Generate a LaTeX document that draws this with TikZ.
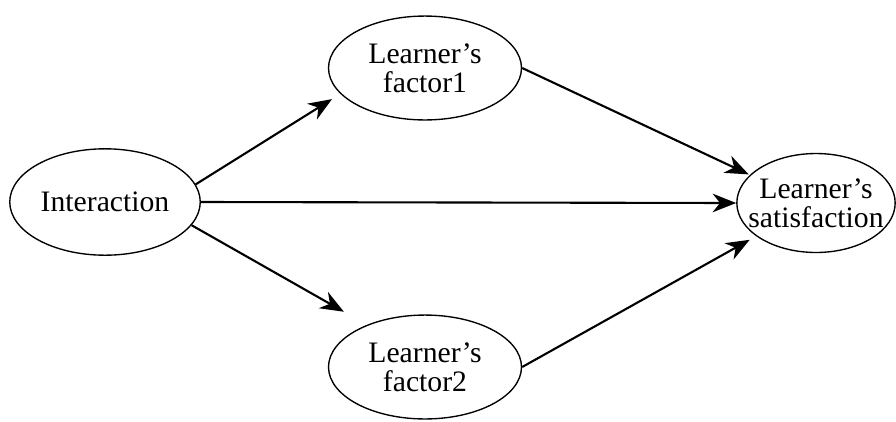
\documentclass[tikz,border=0pt]{standalone}
\usepackage{fontspec}
\setmainfont{Liberation Serif}
\usetikzlibrary{arrows.meta,shapes.geometric}

\begin{document}
\begin{tikzpicture}[x=0.0142cm, y=-0.0142cm,
		oval/.style={ellipse, draw, line width=0.55pt, inner sep=0pt, minimum width=78pt, minimum height=42pt},
		lbl/.style={font=\fontsize{12}{11.6}\selectfont, align=center},
		arr/.style={-{Stealth[length=9.5pt, width=7.5pt, inset=3pt]}, line width=0.85pt}]
		%%%%% START %%%%%
		
		\useasboundingbox (0, 0) rectangle (896, 421);
		
		\node[oval, minimum width=77pt, minimum height=43pt, label={[lbl]center:Interaction}] (inter) at (105, 202) {};
		\node[oval, label={[lbl]center:{Learner’s\\factor1}}] (fac1) at (425, 68) {};
		\node[oval, label={[lbl]center:{Learner’s\\factor2}}] (fac2) at (425, 367) {};
		\node[oval, minimum width=64pt, minimum height=40pt, label={[lbl]center:{Learner’s\\satisfaction}}] (satis) at (816, 203) {};
		
		\draw[arr, shorten >=4pt] (inter.11) -- (fac1.197);
		\draw[arr] (inter.east) -- (satis.west);
		\draw[arr, shorten >=10.7pt] (inter.-15) -- (fac2.144.5);
		
		\draw[arr, shorten >=0.5pt] (fac1.east) -- (satis.157);
		\draw[arr, shorten >=3pt] (fac2.east) -- (satis.209);
		
		%%%%% END %%%%%
	\end{tikzpicture}
\end{document}
